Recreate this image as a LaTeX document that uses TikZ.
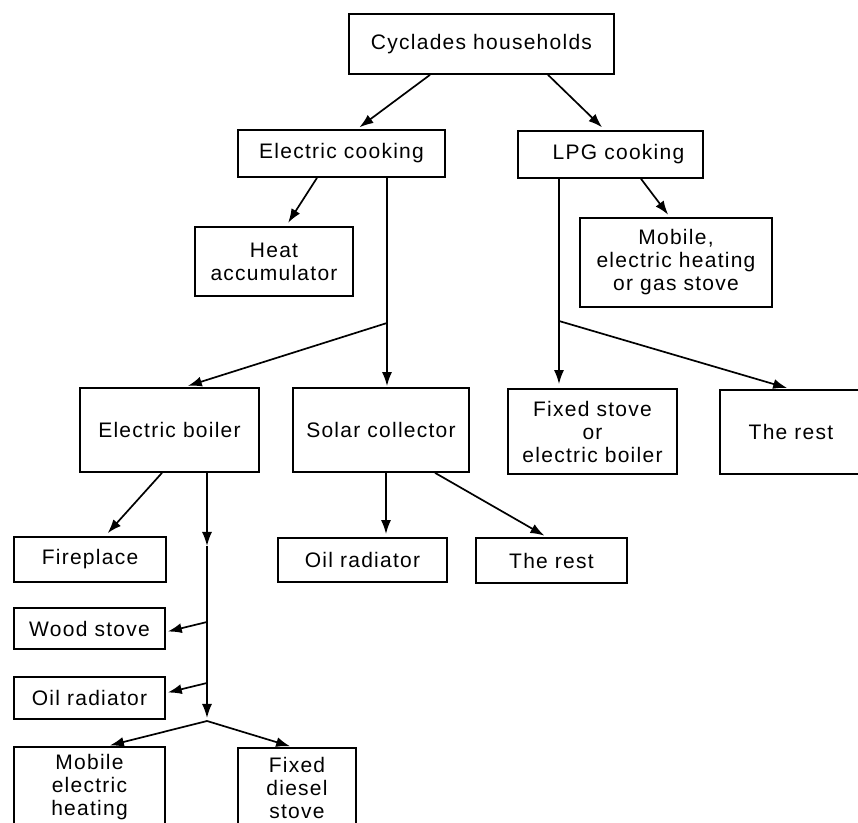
\documentclass[tikz,border=0pt]{standalone}
\usepackage{fontspec}
\setmainfont{Liberation Sans}[LetterSpace=6]
\usetikzlibrary{arrows.meta}

\tikzset{
  box/.style={draw, line width=0.85pt, inner sep=0pt, align=center,
    font=\fontsize{10.5}{11.5}\selectfont},
  arr/.style={-{Latex[length=7pt,width=5pt]}, line width=0.85pt},
  plain/.style={line width=0.85pt}
}

\begin{document}
\begin{tikzpicture}[x=0.5pt,y=-0.5pt]
\useasboundingbox (0,0) rectangle (858,823);

% Top level
\node [box,
	minimum width=132.5pt,
	minimum height=30pt] (house) at (481.5,44) {Cyclades households};

% Cooking
\node [box,
	minimum width=103.5pt,
	minimum height=23.5pt] (elcook) at (341.5,153.5) {Electric cooking};
\node [box,
	minimum width=92.5pt,
	minimum height=23.5pt] (lpgcook) at (610.5,154.5) {\hspace*{8pt}LPG cooking};

% Space heating after cooking
\node [box,
	minimum width=79pt,
	minimum height=34.5pt] (heatacc) at (274,261.5) {Heat\\accumulator};
\node [box,
	minimum width=96pt,
	minimum height=44.5pt] (mobgas) at (676,262.5) {Mobile,\\electric heating\\or gas stove};

% Water heating
\node [box,
	minimum width=89.5pt,
	minimum height=42pt] (elboil) at (169.5,430) {Electric boiler};
\node [box,
	minimum width=88pt,
	minimum height=42pt] (solar) at (381,430) {Solar collector};
\node [box,
	minimum width=84.5pt,
	minimum height=42.5pt] (fixboil) at (592.5,431.5) {Fixed stove\\or\\electric boiler};
\node [box,
	minimum width=71pt,
	minimum height=42pt] (restlpg) at (791,432) {The rest};

% Space heating, third level
\node [box,
	minimum width=76pt,
	minimum height=22.5pt] (fire) at (90,559.5) {Fireplace};
\node [box,
	minimum width=84.5pt,
	minimum height=22pt] (oilsol) at (362.5,560) {Oil radiator};
\node [box,
	minimum width=75.5pt,
	minimum height=22.5pt] (restsol) at (551.5,560.5) {The rest};
\node [box,
	minimum width=75.5pt,
	minimum height=20.5pt] (wood) at (89.5,628.5) {Wood stove};
\node [box,
	minimum width=75.5pt,
	minimum height=21pt] (oilrad) at (89.5,698) {Oil radiator};
\node [box,
	minimum width=75.5pt,
	minimum height=40pt] (mobel) at (89.5,787) {Mobile\\electric\\heating};
\node [box,
	minimum width=59pt,
	minimum height=40pt] (diesel) at (297,788) {Fixed\\diesel\\stove};

% Branch points
\coordinate (elbr) at (387,323);
\coordinate (lpgbr) at (559,321);
\coordinate (elmid) at (207,546);
\coordinate (woodbr) at (207,622);
\coordinate (oilbr) at (207,683);
\coordinate (elbot) at (207,721);

% Connectors
\draw [arr, shorten >=1.5pt] ([xshift=-25.75pt]house.south) -- ([xshift=7.75pt]elcook.north);
\draw [arr, shorten >=2pt] ([xshift=33.25pt]house.south) -- ([xshift=-2.75pt]lpgcook.north);
\draw [arr, shorten >=2pt] ([xshift=-12.25pt]elcook.south) -- ([xshift=6pt]heatacc.north);
\draw [plain] ([xshift=22.75pt]elcook.south) -- (elbr);
\draw [arr, shorten >=2pt] (elbr) -- ([xshift=7.25pt]elboil.north);
\draw [arr, shorten >=0.5pt] (elbr) -- ([xshift=3pt]solar.north);
\draw [arr, shorten >=1.5pt] ([xshift=15.25pt]lpgcook.south) -- ([xshift=-3pt]mobgas.north);
\draw [plain] ([xshift=-25.75pt]lpgcook.south) -- (lpgbr);
\draw [arr, shorten >=2pt] (lpgbr) -- ([xshift=-16.75pt]fixboil.north);
\draw [arr, shorten >=2pt] (lpgbr) -- (restlpg.north);
\draw [arr, shorten >=2pt] ([xshift=-3.75pt]elboil.south) -- ([xshift=7.5pt]fire.north);
\draw [arr] ([xshift=18.75pt]elboil.south) -- (elmid);
\draw [arr, shorten >=1.5pt] (elmid) -- (elbot);
\draw [arr, shorten >=1pt] (woodbr) -- ([yshift=-1.75pt]wood.east);
\draw [arr, shorten >=1pt] (oilbr) -- ([yshift=2.5pt]oilrad.east);
\draw [arr, shorten >=1.5pt] (elbot) -- ([xshift=8.75pt]mobel.north);
\draw [arr, shorten >=1.5pt] (elbot) -- ([xshift=-2pt]diesel.north);
\draw [arr, shorten >=1.5pt] ([xshift=2.5pt]solar.south) -- ([xshift=11.75pt]oilsol.north);
\draw [arr, shorten >=1.5pt] ([xshift=27pt]solar.south) -- ([xshift=-2.25pt]restsol.north);

\end{tikzpicture}
\end{document}
